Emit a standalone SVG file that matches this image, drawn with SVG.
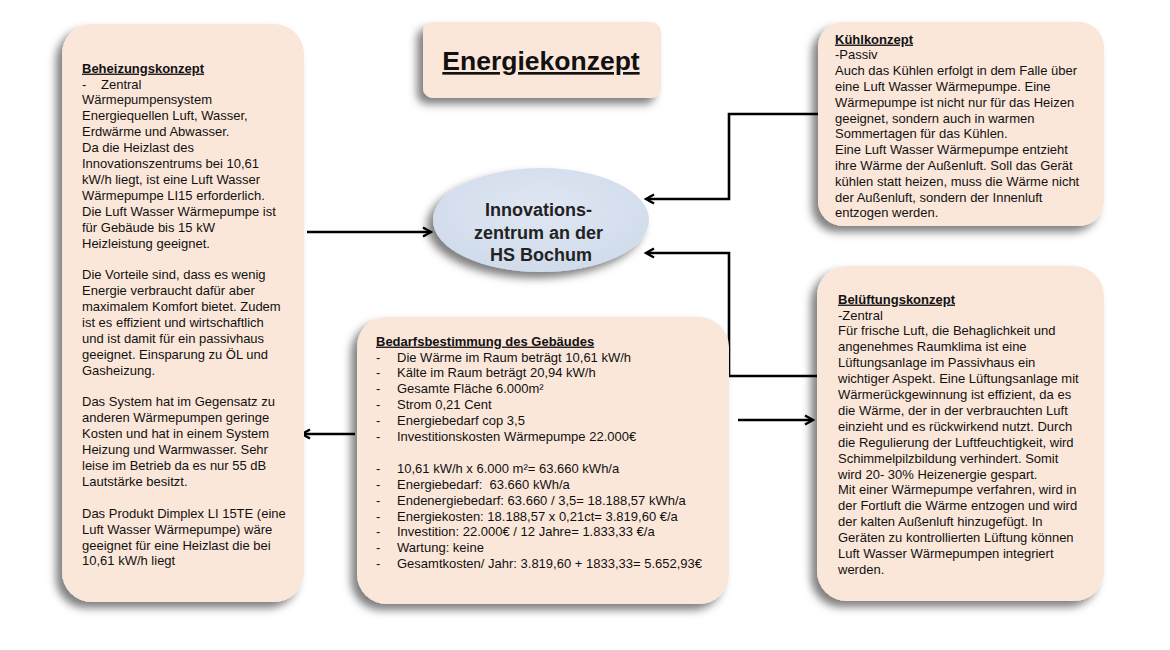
<svg xmlns="http://www.w3.org/2000/svg" width="1170" height="650" viewBox="0 0 1170 650">
<defs>
<style>
.box{fill:#fbe7da;filter:url(#sh);}
.t{font-family:"Liberation Sans",Arial,sans-serif;font-size:13px;fill:#111;}
.h{font-weight:bold;text-decoration:underline;}
.conn{fill:none;stroke:#000;stroke-width:2.6;marker-end:url(#arr);}
</style>
<filter id="sh" x="-20%" y="-20%" width="140%" height="140%">
<feDropShadow dx="-6" dy="6" stdDeviation="4.5" flood-color="#000" flood-opacity="0.5"/>
</filter>
<radialGradient id="eg" cx="50%" cy="40%" r="60%">
<stop offset="0" stop-color="#dfe7f2"/>
<stop offset="1" stop-color="#d0dbeb"/>
</radialGradient>
<marker id="arr" viewBox="0 0 12 12" refX="10" refY="6" markerWidth="12" markerHeight="12" markerUnits="userSpaceOnUse" orient="auto">
<path d="M2,1.5 L10,6 L2,10.5" fill="none" stroke="#000" stroke-width="2.4" stroke-linejoin="miter"/>
</marker>
</defs>
<rect width="1170" height="650" fill="#fff"/>

<g id="connectors">
<path class="conn" d="M307,232 H431"/>
<path class="conn" d="M818,114 H729 V199 H646"/>
<path class="conn" d="M817,376 H729 V253 H646"/>
<path class="conn" d="M355,434 H302"/>
<path class="conn" d="M738,420 H813"/>
</g>

<g id="title">
<rect class="box" x="423" y="22" width="238" height="76" rx="10"/>
<text x="541" y="70" text-anchor="middle" font-family="Liberation Sans, Arial, sans-serif" font-size="26.5" font-weight="bold" text-decoration="underline" fill="#111">Energiekonzept</text>
</g>

<g id="zentrum">
<ellipse cx="541" cy="220" rx="108" ry="52" fill="url(#eg)" filter="url(#sh)"/>
<text x="541" font-family="Liberation Sans, Arial, sans-serif" font-size="18" font-weight="bold" text-anchor="middle" fill="#222">
<tspan x="541" y="216">Innovations-</tspan>
<tspan x="541" y="238.5">zentrum an der</tspan>
<tspan x="541" y="261">HS Bochum</tspan>
</text>
</g>

<g id="beheizung">
<rect class="box" x="62" y="24" width="242" height="578" rx="30"/>
<text class="t">
<tspan class="h" x="82" y="72.6">Beheizungskonzept</tspan>
<tspan x="82" dy="15.9">-</tspan><tspan x="101">Zentral</tspan>
<tspan x="82" dy="15.9">Wärmepumpensystem</tspan>
<tspan x="82" dy="15.9">Energiequellen Luft, Wasser,</tspan>
<tspan x="82" dy="15.9">Erdwärme und Abwasser.</tspan>
<tspan x="82" dy="15.9">Da die Heizlast des</tspan>
<tspan x="82" dy="15.9">Innovationszentrums bei 10,61</tspan>
<tspan x="82" dy="15.9">kW/h liegt, ist eine Luft Wasser</tspan>
<tspan x="82" dy="15.9">Wärmepumpe LI15 erforderlich.</tspan>
<tspan x="82" dy="15.9">Die Luft Wasser Wärmepumpe ist</tspan>
<tspan x="82" dy="15.9">für Gebäude bis 15 kW</tspan>
<tspan x="82" dy="15.9">Heizleistung geeignet.</tspan>
<tspan x="82" dy="31.8">Die Vorteile sind, dass es wenig</tspan>
<tspan x="82" dy="15.9">Energie verbraucht dafür aber</tspan>
<tspan x="82" dy="15.9">maximalem Komfort bietet. Zudem</tspan>
<tspan x="82" dy="15.9">ist es effizient und wirtschaftlich</tspan>
<tspan x="82" dy="15.9">und ist damit für ein passivhaus</tspan>
<tspan x="82" dy="15.9">geeignet. Einsparung zu ÖL und</tspan>
<tspan x="82" dy="15.9">Gasheizung.</tspan>
<tspan x="82" dy="31.8">Das System hat im Gegensatz zu</tspan>
<tspan x="82" dy="15.9">anderen Wärmepumpen geringe</tspan>
<tspan x="82" dy="15.9">Kosten und hat in einem System</tspan>
<tspan x="82" dy="15.9">Heizung und Warmwasser. Sehr</tspan>
<tspan x="82" dy="15.9">leise im Betrieb da es nur 55 dB</tspan>
<tspan x="82" dy="15.9">Lautstärke besitzt.</tspan>
<tspan x="82" dy="31.8">Das Produkt Dimplex LI 15TE (eine</tspan>
<tspan x="82" dy="15.9">Luft Wasser Wärmepumpe) wäre</tspan>
<tspan x="82" dy="15.9">geeignet für eine Heizlast die bei</tspan>
<tspan x="82" dy="15.9">10,61 kW/h liegt</tspan>
</text>
</g>

<g id="bedarf">
<rect class="box" x="357" y="317" width="372" height="287" rx="30"/>
<text class="t">
<tspan class="h" x="376" y="345.6">Bedarfsbestimmung des Gebäudes</tspan>
<tspan x="376" dy="15.9">-</tspan><tspan x="397">Die Wärme im Raum beträgt 10,61 kW/h</tspan>
<tspan x="376" dy="15.9">-</tspan><tspan x="397">Kälte im Raum beträgt 20,94 kW/h</tspan>
<tspan x="376" dy="15.9">-</tspan><tspan x="397">Gesamte Fläche 6.000m²</tspan>
<tspan x="376" dy="15.9">-</tspan><tspan x="397">Strom 0,21 Cent</tspan>
<tspan x="376" dy="15.9">-</tspan><tspan x="397">Energiebedarf cop 3,5</tspan>
<tspan x="376" dy="15.9">-</tspan><tspan x="397">Investitionskosten Wärmepumpe 22.000€</tspan>
<tspan x="376" dy="31.8">-</tspan><tspan x="397">10,61 kW/h x 6.000 m²= 63.660 kWh/a</tspan>
<tspan x="376" dy="15.9">-</tspan><tspan x="397">Energiebedarf:&#160; 63.660 kWh/a</tspan>
<tspan x="376" dy="15.9">-</tspan><tspan x="397">Endenergiebedarf: 63.660 / 3,5= 18.188,57 kWh/a</tspan>
<tspan x="376" dy="15.9">-</tspan><tspan x="397">Energiekosten: 18.188,57 x 0,21ct= 3.819,60 €/a</tspan>
<tspan x="376" dy="15.9">-</tspan><tspan x="397">Investition: 22.000€ / 12 Jahre= 1.833,33 €/a</tspan>
<tspan x="376" dy="15.9">-</tspan><tspan x="397">Wartung: keine</tspan>
<tspan x="376" dy="15.9">-</tspan><tspan x="397">Gesamtkosten/ Jahr: 3.819,60 + 1833,33= 5.652,93€</tspan>
</text>
</g>

<g id="kuehl">
<rect class="box" x="818" y="22" width="286" height="204" rx="25"/>
<text class="t">
<tspan class="h" x="835" y="43.6">Kühlkonzept</tspan>
<tspan x="835" dy="15.8">-Passiv</tspan>
<tspan x="835" dy="15.8">Auch das Kühlen erfolgt in dem Falle über</tspan>
<tspan x="835" dy="15.8">eine Luft Wasser Wärmepumpe. Eine</tspan>
<tspan x="835" dy="15.8">Wärmepumpe ist nicht nur für das Heizen</tspan>
<tspan x="835" dy="15.8">geeignet, sondern auch in warmen</tspan>
<tspan x="835" dy="15.8">Sommertagen für das Kühlen.</tspan>
<tspan x="835" dy="15.8">Eine Luft Wasser Wärmepumpe entzieht</tspan>
<tspan x="835" dy="15.8">ihre Wärme der Außenluft. Soll das Gerät</tspan>
<tspan x="835" dy="15.8">kühlen statt heizen, muss die Wärme nicht</tspan>
<tspan x="835" dy="15.8">der Außenluft, sondern der Innenluft</tspan>
<tspan x="835" dy="15.8">entzogen werden.</tspan>
</text>
</g>

<g id="belueftung">
<rect class="box" x="817" y="266" width="287" height="335" rx="30"/>
<text class="t">
<tspan class="h" x="838" y="303.6">Belüftungskonzept</tspan>
<tspan x="838" dy="15.9">-Zentral</tspan>
<tspan x="838" dy="15.9">Für frische Luft, die Behaglichkeit und</tspan>
<tspan x="838" dy="15.9">angenehmes Raumklima ist eine</tspan>
<tspan x="838" dy="15.9">Lüftungsanlage im Passivhaus ein</tspan>
<tspan x="838" dy="15.9">wichtiger Aspekt. Eine Lüftungsanlage mit</tspan>
<tspan x="838" dy="15.9">Wärmerückgewinnung ist effizient, da es</tspan>
<tspan x="838" dy="15.9">die Wärme, der in der verbrauchten Luft</tspan>
<tspan x="838" dy="15.9">einzieht und es rückwirkend nutzt. Durch</tspan>
<tspan x="838" dy="15.9">die Regulierung der Luftfeuchtigkeit, wird</tspan>
<tspan x="838" dy="15.9">Schimmelpilzbildung verhindert. Somit</tspan>
<tspan x="838" dy="15.9">wird 20- 30% Heizenergie gespart.</tspan>
<tspan x="838" dy="15.9">Mit einer Wärmepumpe verfahren, wird in</tspan>
<tspan x="838" dy="15.9">der Fortluft die Wärme entzogen und wird</tspan>
<tspan x="838" dy="15.9">der kalten Außenluft hinzugefügt. In</tspan>
<tspan x="838" dy="15.9">Geräten zu kontrollierten Lüftung können</tspan>
<tspan x="838" dy="15.9">Luft Wasser Wärmepumpen integriert</tspan>
<tspan x="838" dy="15.9">werden.</tspan>
</text>
</g>
</svg>
